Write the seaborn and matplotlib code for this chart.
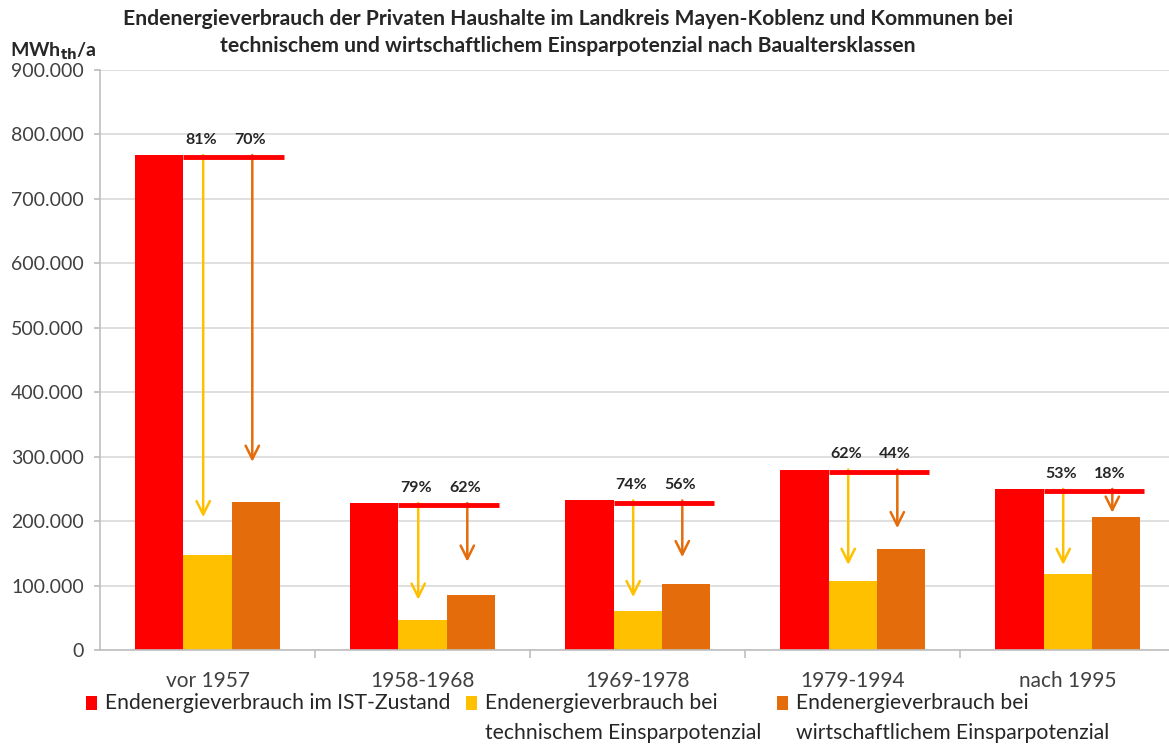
import numpy as np
import pandas as pd
import matplotlib
matplotlib.use("Agg")
import matplotlib.pyplot as plt
import matplotlib.transforms as mtransforms
from matplotlib.ticker import FuncFormatter, FixedLocator
import seaborn as sns

# ---------------- data ----------------
categories = ["vor 1957", "1958-1968", "1969-1978", "1979-1994", "nach 1995"]
series_names = [
    "Endenergieverbrauch im IST-Zustand",
    "Endenergieverbrauch bei\ntechnischem Einsparpotenzial",
    "Endenergieverbrauch bei\nwirtschaftlichem Einsparpotenzial",
]
ist_zustand = [768000, 228000, 232000, 280000, 250000]
technisch = [148000, 47000, 61000, 107000, 118000]
wirtschaftlich = [230000, 85000, 102000, 157000, 206000]
pct_technisch = ["81%", "79%", "74%", "62%", "53%"]
pct_wirtschaftlich = ["70%", "62%", "56%", "44%", "18%"]
arrow_tip_technisch = [206000, 78000, 82000, 132000, 132000]
arrow_tip_wirtschaftlich = [292000, 137000, 144000, 189000, 213000]
y_ticks = [0, 100000, 200000, 300000, 400000, 500000, 600000, 700000, 800000, 900000]
title_text = ("Endenergieverbrauch der Privaten Haushalte im Landkreis Mayen-Koblenz und Kommunen bei\n"
              "technischem und wirtschaftlichem Einsparpotenzial nach Baualtersklassen")

colors = ["#FF0000", "#FFC000", "#E46C0A"]

df = pd.DataFrame({
    "Baualtersklasse": categories * 3,
    "Serie": [series_names[0]] * 5 + [series_names[1]] * 5 + [series_names[2]] * 5,
    "Wert": ist_zustand + technisch + wirtschaftlich,
})

# ---------------- style ----------------
sns.set_theme(style="white")
plt.rcParams["font.family"] = ["Lato", "DejaVu Sans"]

fig = plt.figure(figsize=(11.69, 7.44), dpi=100)
ax = fig.add_axes([100 / 1169, 1 - 650 / 744, 1 - 100 / 1169, (650 - 70) / 744])

group_width = 0.67
bw = group_width / 3
sns.barplot(data=df, x="Baualtersklasse", y="Wert", hue="Serie",
            hue_order=series_names, order=categories, palette=colors,
            width=group_width, saturation=1, ax=ax, legend=True, errorbar=None,
            linewidth=0)

handles, labels = ax.get_legend_handles_labels()
if ax.get_legend() is not None:
    ax.get_legend().remove()

ax.set_ylim(0, 900000)
ax.set_xlim(-0.5, 4.472)
ax.yaxis.set_major_locator(FixedLocator(y_ticks))
ax.yaxis.set_major_formatter(FuncFormatter(lambda v, p: f"{v:,.0f}".replace(",", ".")))
ax.grid(axis="y", color="#d9d9d9", lw=1.2)
ax.set_axisbelow(True)
ax.set_xlabel("")
ax.set_ylabel("")
for s in ["top", "right"]:
    ax.spines[s].set_visible(False)
for s in ["left", "bottom"]:
    ax.spines[s].set_color("#bfbfbf")
    ax.spines[s].set_linewidth(1.2)

ax.tick_params(axis="y", labelsize=14, labelcolor="#404040", length=4, color="#bfbfbf", pad=7.5, left=True)
ax.tick_params(axis="x", which="major", labelsize=15, labelcolor="#404040", length=0, pad=15)
ax.xaxis.set_minor_locator(FixedLocator([0.5, 1.5, 2.5, 3.5]))
ax.tick_params(axis="x", which="minor", length=6, color="#bfbfbf", width=1.2, bottom=True)

# ---------------- annotations ----------------
line_tr = mtransforms.offset_copy(ax.transData, fig=fig, y=-1.5, units="points")
text_tr = mtransforms.offset_copy(ax.transData, fig=fig, y=6, units="points")
for i in range(len(categories)):
    x_red_right = i - bw / 2
    x_tech = i - 0.02
    x_wirt = i + bw - 0.015
    ax.plot([x_red_right, i + 1.5 * bw + 0.02], [ist_zustand[i]] * 2, color="#FF0000",
            lw=3.5, solid_capstyle="butt", transform=line_tr, zorder=4)
    ax.annotate("", xy=(x_tech, arrow_tip_technisch[i]), xytext=(x_tech, ist_zustand[i]),
                arrowprops=dict(arrowstyle="->", color="#FFC000", lw=1.8, mutation_scale=24,
                                shrinkA=0, shrinkB=0), zorder=3)
    ax.annotate("", xy=(x_wirt, arrow_tip_wirtschaftlich[i]), xytext=(x_wirt, ist_zustand[i]),
                arrowprops=dict(arrowstyle="->", color="#E46C0A", lw=1.8, mutation_scale=24,
                                shrinkA=0, shrinkB=0), zorder=3)
    ax.text(x_tech - 0.01, ist_zustand[i], pct_technisch[i], ha="center", va="bottom",
            fontsize=11.5, fontweight="bold", color="#262626", transform=text_tr)
    ax.text(x_wirt - 0.01, ist_zustand[i], pct_wirtschaftlich[i], ha="center", va="bottom",
            fontsize=11.5, fontweight="bold", color="#262626", transform=text_tr)

# ---------------- title & unit ----------------
fig.text(0.486, 1 - 9 / 744, title_text, ha="center", va="top", fontsize=15.2,
         fontweight="bold", color="#262626", linespacing=1.45)
fig.text(10 / 1169, 1 - 57 / 744, r"MWh$_{\mathbf{th}}$/a", ha="left", va="baseline",
         fontsize=14, fontweight="bold", color="#262626")

# ---------------- legend ----------------
leg_labels = [series_names[0] + "\n ", series_names[1], series_names[2]]
leg = fig.legend(handles, leg_labels, loc="upper left", bbox_to_anchor=(86 / 1169, 1 - 693 / 744),
                 ncol=3, frameon=False, fontsize=15.2, borderpad=0, borderaxespad=0,
                 handlelength=0.52, handleheight=0.62, handletextpad=0.38,
                 columnspacing=0.75, labelspacing=0)
for t in leg.get_texts():
    t.set_color("#262626")
    t.set_linespacing(1.65)
for h in leg.legend_handles:
    h.set_y(h.get_y() + 11.5)

fig.savefig("out.png", dpi=100)
